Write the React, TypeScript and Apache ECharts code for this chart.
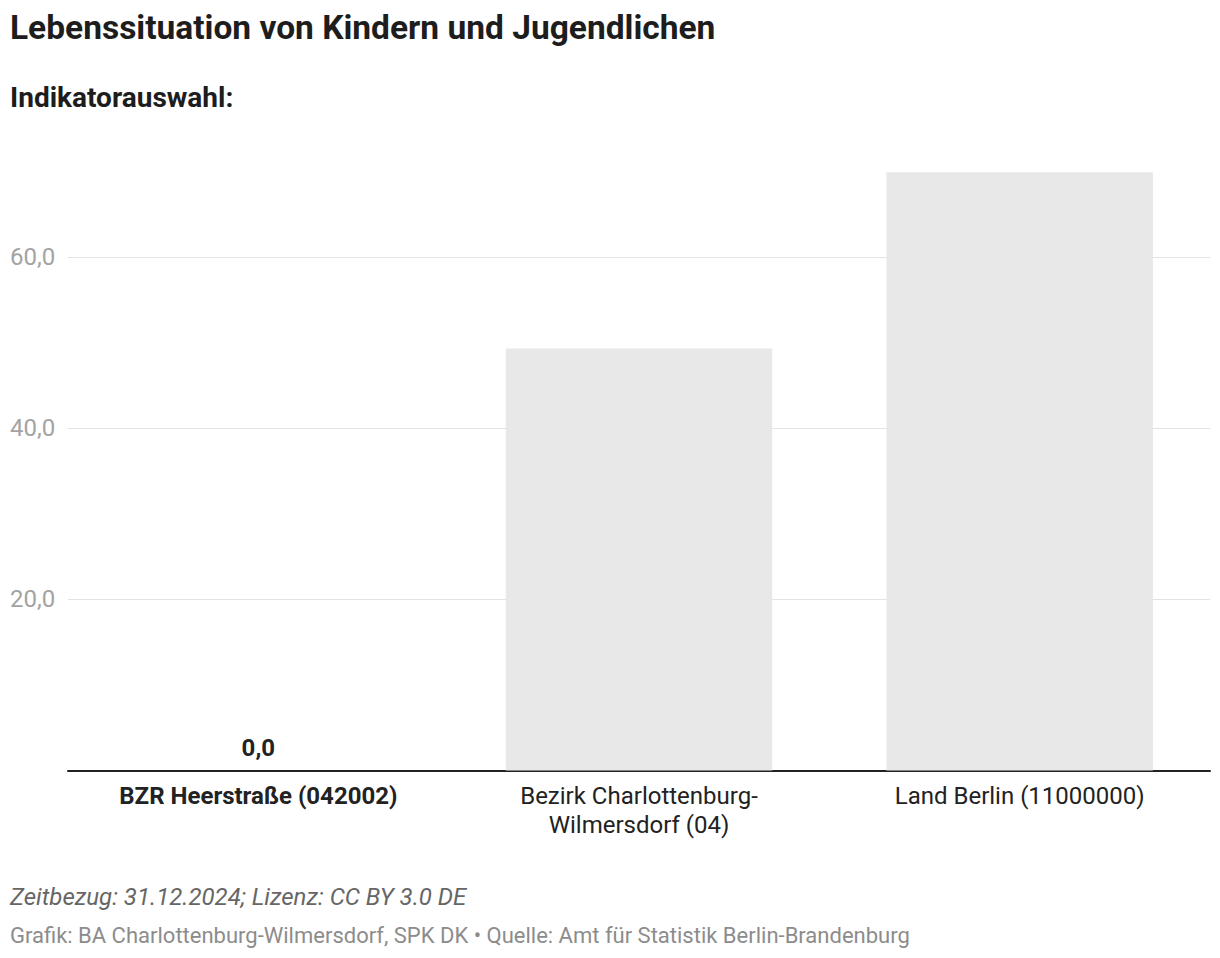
import React, { useEffect, useRef } from 'react';
import * as echarts from 'echarts';

const categories = ['BZR Heerstraße (042002)', 'Bezirk Charlottenburg-\nWilmersdorf (04)', 'Land Berlin (11000000)'];
const values = [0, 49.3, 69.9];
const yTicks = [20, 40, 60];
const labelledBars = [0];
const highlightedCategories = [0];
const titleText = 'Lebenssituation von Kindern und Jugendlichen';
const subtitleText = 'Indikatorauswahl:';
const noteText = 'Zeitbezug: 31.12.2024; Lizenz: CC BY 3.0 DE';
const sourceText = 'Grafik: BA Charlottenburg-Wilmersdorf, SPK DK • Quelle: Amt für Statistik Berlin-Brandenburg';

const fmt = (v: number) => v.toFixed(1).replace('.', ',');
const FONT = 'Roboto, "Noto Sans", sans-serif';

export default function App() {
  const ref = useRef<HTMLDivElement>(null);
  useEffect(() => {
    document.body.style.margin = '0';
    if (!ref.current) return;
    const chart = echarts.init(ref.current, null, { renderer: 'svg' });
    chart.setOption({
      animation: false,
      backgroundColor: '#ffffff',
      textStyle: { fontFamily: FONT },
      grid: { left: 68, right: 10, top: 171.4, bottom: 187.5, containLabel: false, outerBoundsMode: 'none' },
      graphic: [
        { type: 'text', left: 10, top: 10, style: { text: titleText, font: `bold 33.5px ${FONT}`, fill: '#1d1d1d' } },
        { type: 'text', left: 10, top: 83, style: { text: subtitleText, font: `bold 28px ${FONT}`, fill: '#1d1d1d' } },
        { type: 'text', left: 10, top: 885, style: { text: noteText, font: `italic 24px ${FONT}`, fill: '#666666' } },
        { type: 'text', left: 10, top: 924, style: { text: sourceText, font: `22px ${FONT}`, fill: '#8c8c8c' } },
      ],
      xAxis: {
        type: 'category',
        data: categories,
        axisLine: { show: true, lineStyle: { color: '#222222', width: 2 } },
        axisTick: { show: false },
        axisLabel: {
          interval: 0,
          margin: 11,
          fontSize: 24,
          lineHeight: 29,
          color: '#222222',
          fontFamily: FONT,
          formatter: (v: string, i: number) => (highlightedCategories.includes(i) ? `{b|${v}}` : v),
          rich: { b: { fontWeight: 'bold', fontSize: 24, lineHeight: 29, color: '#222222', fontFamily: FONT } },
        },
      },
      yAxis: {
        type: 'value',
        min: 0,
        max: 70,
        interval: 20,
        axisLine: { show: false },
        axisTick: { show: false },
        splitLine: {
          show: true,
          lineStyle: { color: ['transparent', '#e3e3e3', '#e3e3e3', '#e3e3e3', 'transparent'], width: 1 },
        },
        axisLabel: {
          align: 'left',
          margin: 58,
          fontSize: 24,
          color: '#a3a3a3',
          fontFamily: FONT,
          formatter: (v: number) => (yTicks.includes(v) ? fmt(v) : ''),
        },
      },
      series: [
        {
          type: 'bar',
          barWidth: '70%',
          itemStyle: { color: '#e8e8e8' },
          label: { show: false },
          data: values.map((v, i) =>
            labelledBars.includes(i)
              ? {
                  value: v,
                  label: {
                    show: true,
                    position: 'top',
                    distance: 11,
                    fontSize: 24,
                    fontWeight: 'bold',
                    color: '#222222',
                    fontFamily: FONT,
                    formatter: (p: any) => fmt(p.value),
                  },
                }
              : v
          ),
        },
      ],
    });
    return () => chart.dispose();
  }, []);
  return <div ref={ref} style={{ width: 1220, height: 958 }} />;
}
